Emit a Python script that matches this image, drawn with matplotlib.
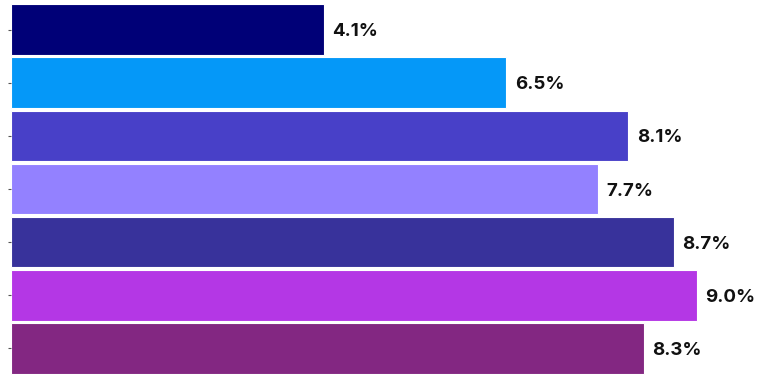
import matplotlib
matplotlib.use("Agg")
import matplotlib.pyplot as plt

categories = ["A", "B", "C", "D", "E", "F", "G"]
values = [4.1, 6.5, 8.1, 7.7, 8.7, 9.0, 8.3]
labels = ["4.1%", "6.5%", "8.1%", "7.7%", "8.7%", "9.0%", "8.3%"]
colors = ["#000077", "#0598F8", "#4840C8", "#9381FF", "#38329B", "#B437E5", "#832782"]

fig = plt.figure(figsize=(7.61, 3.75), dpi=100)
ax = fig.add_axes([11/761, 0.0, 1 - 11/761, 1 - 3/375])
ypos = list(range(len(categories)))
ax.barh(ypos, values, height=0.95, color=colors, edgecolor="white", linewidth=0.8)
for y, v, lab in zip(ypos, values, labels):
    ax.annotate(lab, xy=(v, y), xytext=(6, -1.5), textcoords="offset points",
                va="center", ha="left", fontsize=13.5, fontweight="bold",
                family=["Inter", "DejaVu Sans"], color="#111111")
ax.set_xlim(0, 750 / ((697 - 11) / 9.0))
ax.set_ylim(6.5, -0.5)
ax.set_yticks(ypos)
ax.set_yticklabels([])
ax.tick_params(axis="y", length=2, width=0.8, color="#555555")
ax.set_xticks([])
for s in ax.spines.values():
    s.set_visible(False)
fig.savefig("out.png", dpi=100)
